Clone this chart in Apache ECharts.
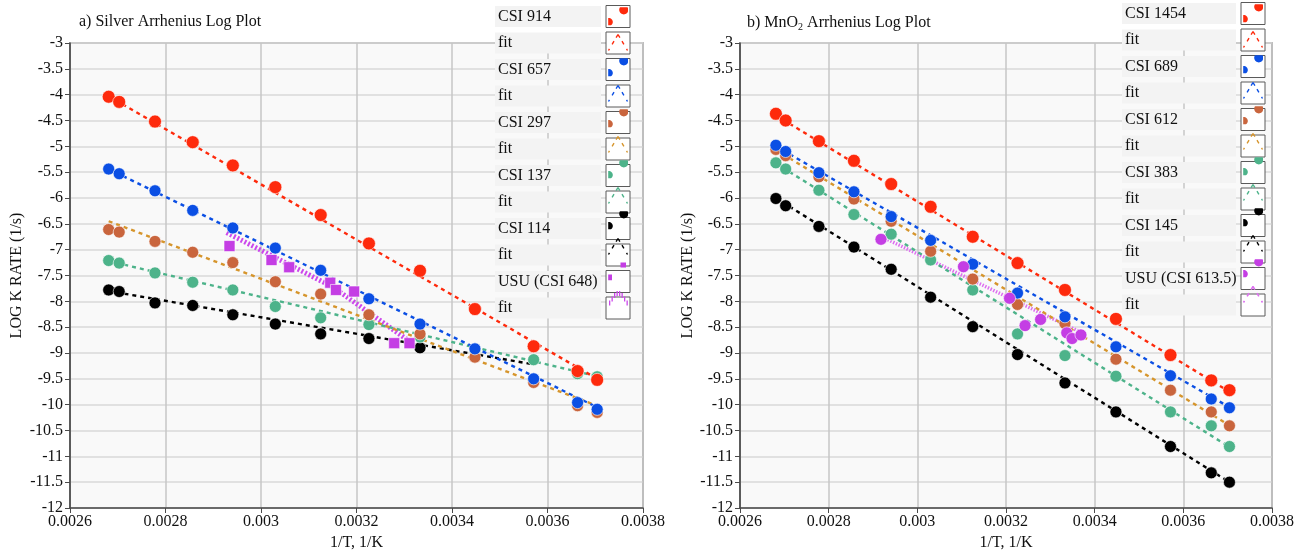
<!DOCTYPE html>
<html><head><meta charset="utf-8">
<script src="https://cdn.jsdelivr.net/npm/echarts@6/dist/echarts.min.js"></script>
<style>html,body{margin:0;padding:0;background:#fff}#c{width:1302px;height:556px}</style>
</head><body><div id="c"></div>
<script>
// ---------- DATA ----------
const invT = [0.002681,0.002703,0.002778,0.002857,0.002941,0.003030,0.003125,0.003226,0.003333,0.003448,0.003571,0.003663,0.003704];
const xTicks = ['0.0026','0.0028','0.003','0.0032','0.0034','0.0036','0.0038'];

// a) Silver
const agNames = ['CSI 914','CSI 657','CSI 297','CSI 137','CSI 114','USU (CSI 648)'];
const ag914 = [-4.04,-4.14,-4.52,-4.92,-5.37,-5.79,-6.33,-6.88,-7.41,-8.15,-8.87,-9.35,-9.52];
const ag657 = [-5.44,-5.53,-5.86,-6.24,-6.58,-6.97,-7.40,-7.95,-8.44,-8.92,-9.50,-9.96,-10.09];
const ag297 = [-6.61,-6.66,-6.84,-7.05,-7.25,-7.62,-7.86,-8.26,-8.63,-9.08,-9.57,-10.02,-10.15];
const ag137 = [-7.21,-7.26,-7.45,-7.63,-7.78,-8.10,-8.32,-8.45,-8.69,-8.94,-9.13,-9.40,-9.46];
const ag114 = [-7.78,-7.81,-8.03,-8.08,-8.26,-8.44,-8.63,-8.72,-8.90];
const agUsuX = [0.002934,0.003022,0.003059,0.003145,0.003157,0.003195,0.003279,0.003311];
const agUsuY = [-6.93,-7.20,-7.34,-7.64,-7.78,-7.81,-8.81,-8.81];
const fitX = [0.002681,0.003704];
const agFit914 = [-4.03,-9.50];
const agFit657 = [-5.44,-10.05];
const agFit297 = [-6.45,-10.02];
const agFit137 = [-7.22,-9.45];
const agFit114X = [0.002681,0.003571];
const agFit114 = [-7.80,-9.22];
const agFitUsuX = [0.002928,0.003150,0.003312];
const agFitUsu = [-6.67,-7.72,-8.78];

// b) MnO2
const mnNames = ['CSI 1454','CSI 689','CSI 612','CSI 383','CSI 145','USU (CSI 613.5)'];
const mn1454 = [-4.37,-4.50,-4.90,-5.28,-5.73,-6.17,-6.75,-7.26,-7.78,-8.34,-9.04,-9.53,-9.72];
const mn689 = [-4.98,-5.10,-5.51,-5.88,-6.36,-6.82,-7.28,-7.84,-8.30,-8.88,-9.44,-9.89,-10.06];
const mn612 = [-5.06,-5.18,-5.59,-6.02,-6.45,-7.03,-7.57,-8.06,-8.43,-9.12,-9.72,-10.14,-10.41];
const mn383 = [-5.32,-5.44,-5.85,-6.32,-6.70,-7.20,-7.78,-8.63,-9.05,-9.45,-10.14,-10.41,-10.81];
const mn145 = [-6.01,-6.15,-6.55,-6.95,-7.38,-7.92,-8.49,-9.03,-9.58,-10.14,-10.81,-11.32,-11.50];
const mnUsuX = [0.002918,0.003104,0.003208,0.003243,0.003278,0.003337,0.003349,0.003369];
const mnUsuY = [-6.80,-7.33,-7.94,-8.47,-8.35,-8.61,-8.72,-8.65];
const mnFit1454 = [-4.40,-9.75];
const mnFit689 = [-5.00,-10.05];
const mnFit612 = [-5.07,-10.40];
const mnFit383 = [-5.33,-10.82];
const mnFit145 = [-6.00,-11.50];
const mnFitUsuX = [0.002927,0.003374];
const mnFitUsu = [-6.78,-8.62];

// ---------- STYLE ----------
const FONT = "'Liberation Serif','Times New Roman',serif";
const C = {red:'#fe2a0c', blue:'#0b4fe4', sienna:'#c9653d', gold:'#d6952c', green:'#4db38a', black:'#000000', purple:'#c43ee4', purpleFit:'#cc48ec', pinkFit:'#dd70f0'};

function zip(xs, ys){ return ys.map((y,i)=>[xs[i], y]); }
const f2 = v => v.toFixed(2);
function seg(x1,y1,x2,y2,w){
  const dx=x2-x1, dy=y2-y1, L=Math.hypot(dx,dy), nx=-dy/L*w/2, ny=dx/L*w/2;
  return `M${f2(x1+nx)} ${f2(y1+ny)}L${f2(x2+nx)} ${f2(y2+ny)}L${f2(x2-nx)} ${f2(y2-ny)}L${f2(x1-nx)} ${f2(y1-ny)}Z`;
}
// clipped disc as polygon (icon glyph only)
function disc(cx, cy, r, x0, y0, x1, y1){
  let p='';
  for(let k=0;k<36;k++){
    const a=k/36*Math.PI*2;
    const x=Math.min(x1,Math.max(x0,cx+r*Math.cos(a)));
    const y=Math.min(y1,Math.max(y0,cy+r*Math.sin(a)));
    p+=(k?'L':'M')+f2(x)+' '+f2(y);
  }
  return p+'Z';
}
// tiny corner specks so the icon path spans the whole 24x22 box
const FRAME = 'M0 0L0.02 0L0 0.02ZM24 22L23.98 22L24 21.98Z';
const boxIcon = 'path://M0 0H24V22H0Z';
const dotIcon = 'path://' + FRAME + disc(17.8, 4.8, 4.6, 0, 2.2, 22, 22) + disc(2.8, 17.0, 4.0, 2.2, 0, 24, 20.3);
const sqIcon = 'path://' + FRAME + 'M14.5 2.5H20V7.5H14.5Z' + 'M2.2 14.5H6V20.3H2.2Z';
function caret(w){
  const pts=[[12,4],[2.5,20]], pts2=[[12,4],[21.5,20]];
  let p='';
  [pts,pts2].forEach(([a,b])=>{
    [[0,0.2],[0.42,0.62],[0.9,1]].forEach(([t1,t2])=>{
      p+=seg(a[0]+(b[0]-a[0])*t1, a[1]+(b[1]-a[1])*t1, a[0]+(b[0]-a[0])*t2, a[1]+(b[1]-a[1])*t2, w);
    });
  });
  return 'path://' + FRAME + p;
}
function hatch(){
  let p='';
  const xs=[3,5.5,8,10.5,13,15.5,18,20.5];
  const tops=[15,11,7.5,5.5,5.5,7.5,11,15];
  xs.forEach((x,i)=>{ p+=`M${x} ${tops[i]}H${x+1.3}V${tops[i]+5}H${x}Z`; });
  return 'path://' + FRAME + p;
}
const fitIcon = caret(1.4);

function scatter(name, data, color, gi, symbol, size){
  return {type:'scatter', name, data, xAxisIndex:gi, yAxisIndex:gi, symbol:symbol||'circle', symbolSize:size||12,
    itemStyle:{color, borderColor:'rgba(255,255,255,0.6)', borderWidth:1, opacity:1}, z:3};
}
function fit(name, data, color, gi, width, dash){
  return {type:'line', name, data, xAxisIndex:gi, yAxisIndex:gi, symbol:'none', showSymbol:false,
    lineStyle:{color, width:width||2.4, type:dash||[4,4]}, itemStyle:{color}, z:2};
}

const agLegendNames = ['CSI 914','fit a1','CSI 657','fit a2','CSI 297','fit a3','CSI 137','fit a4','CSI 114','fit a5','USU (CSI 648)','fit a6'];
const mnLegendNames = ['CSI 1454','fit b1','CSI 689','fit b2','CSI 612','fit b3','CSI 383','fit b4','CSI 145','fit b5','USU (CSI 613.5)','fit b6'];

const series = [
  fit('fit a6', zip(agFitUsuX, agFitUsu), C.purpleFit, 0, 5, [2,2]),
  fit('fit a5', zip(agFit114X, agFit114), C.black, 0),
  fit('fit a4', zip(fitX, agFit137), C.green, 0),
  fit('fit a3', zip(fitX, agFit297), C.gold, 0),
  fit('fit a2', zip(fitX, agFit657), C.blue, 0),
  fit('fit a1', zip(fitX, agFit914), C.red, 0),
  scatter('CSI 114', zip(invT, ag114), C.black, 0),
  scatter('CSI 137', zip(invT, ag137), C.green, 0),
  scatter('CSI 297', zip(invT, ag297), C.sienna, 0),
  scatter('CSI 657', zip(invT, ag657), C.blue, 0),
  scatter('CSI 914', zip(invT, ag914), C.red, 0, 'circle', 13),
  scatter('USU (CSI 648)', zip(agUsuX, agUsuY), C.purple, 0, 'rect', 11),

  fit('fit b6', zip(mnFitUsuX, mnFitUsu), C.pinkFit, 1, 3.5, [1.5,1.5]),
  fit('fit b5', zip(fitX, mnFit145), C.black, 1),
  fit('fit b4', zip(fitX, mnFit383), C.green, 1),
  fit('fit b3', zip(fitX, mnFit612), C.gold, 1),
  fit('fit b2', zip(fitX, mnFit689), C.blue, 1),
  fit('fit b1', zip(fitX, mnFit1454), C.red, 1),
  scatter('CSI 145', zip(invT, mn145), C.black, 1),
  scatter('CSI 383', zip(invT, mn383), C.green, 1),
  scatter('CSI 612', zip(invT, mn612), C.sienna, 1),
  scatter('CSI 689', zip(invT, mn689), C.blue, 1),
  scatter('USU (CSI 613.5)', zip(mnUsuX, mnUsuY), C.purple, 1),
  scatter('CSI 1454', zip(invT, mn1454), C.red, 1, 'circle', 13)
];

function legendFmt(n){ return '{a|' + (n.indexOf('fit')===0 ? 'fit' : n) + '}'; }
const GAP = 3.5;
function boxLegend(left, top, names, w){
  return {left, top, padding:0, orient:'vertical', align:'right', itemWidth:24, itemHeight:22, itemGap:GAP,
    icon:boxIcon, itemStyle:{color:'#ffffff', borderColor:'#5a5a5a', borderWidth:1}, selectedMode:false,
    data:names, formatter:legendFmt, z:4,
    textStyle:{rich:{a:{width:w, align:'left', backgroundColor:'#f3f3f3', padding:[0,3], height:21, lineHeight:21,
      fontFamily:FONT, fontSize:16, color:'#111'}}}};
}
function iconLegend(left, top, names, w, usuIcon, usuFitIcon){
  return {left, top, padding:0, orient:'vertical', align:'right', itemWidth:24, itemHeight:22, itemGap:GAP,
    itemStyle:{borderWidth:0}, selectedMode:false, z:5, formatter:legendFmt,
    data:names.map((n,i)=>({name:n, icon: i===10 ? usuIcon : i===11 ? usuFitIcon : (i%2===0 ? dotIcon : fitIcon)})),
    textStyle:{rich:{a:{width:w, align:'left', backgroundColor:'rgba(255,255,255,0)', padding:[0,3], height:21, lineHeight:21,
      fontFamily:FONT, fontSize:16, color:'rgba(0,0,0,0)'}}}};
}

function xAxis(gi){
  return {type:'value', gridIndex:gi, min:0.0026, max:0.0038, interval:0.0002,
    name:'1/T, 1/K', nameLocation:'middle', nameGap:26, nameTextStyle:{fontFamily:FONT, fontSize:16, color:'#111'},
    axisLine:{show:true, onZero:false, lineStyle:{color:'#4a4a4a', width:1.5}},
    axisTick:{show:true, length:5, lineStyle:{color:'#4a4a4a'}},
    axisLabel:{fontFamily:FONT, fontSize:16, color:'#111', margin:6, formatter:v=>xTicks[Math.round((v-0.0026)/0.0002)]},
    splitLine:{show:true, lineStyle:{color:'#c6c6c6', width:1.5}}};
}
function yAxis(gi, gap){
  return {type:'value', gridIndex:gi, min:-12, max:-3, interval:0.5,
    name:'LOG K RATE (1/s)', nameLocation:'middle', nameGap:gap, nameTextStyle:{fontFamily:FONT, fontSize:16, color:'#111'},
    axisLine:{show:true, onZero:false, lineStyle:{color:'#3a3a3a', width:1.5}},
    axisTick:{show:true, length:5, lineStyle:{color:'#4a4a4a'}},
    axisLabel:{fontFamily:FONT, fontSize:16, color:'#111', margin:7},
    splitLine:{show:true, lineStyle:{color:'#d8d8d8', width:1.5}}};
}

const chart = echarts.init(document.getElementById('c'), null, {renderer:'canvas'});
chart.setOption({
  animation:false,
  backgroundColor:'#ffffff',
  title:[
    {text:'a) Silver Arrhenius Log Plot', left:79, top:14, padding:0, textStyle:{fontFamily:FONT, fontSize:16, fontWeight:'normal', color:'#111'}},
    {text:'b) MnO{sub|2} Arrhenius Log Plot', left:747, top:14, padding:0,
      textStyle:{fontFamily:FONT, fontSize:16, fontWeight:'normal', color:'#111', lineHeight:18,
        rich:{sub:{fontFamily:FONT, fontSize:10, color:'#111', verticalAlign:'bottom', lineHeight:12}}}}
  ],
  grid:[
    {left:70, top:43, width:573, height:465, show:true, backgroundColor:'#f9f9f9', borderColor:'#8a8a8a', borderWidth:1.5},
    {left:740, top:43, width:532, height:465, show:true, backgroundColor:'#f9f9f9', borderColor:'#8a8a8a', borderWidth:1.5}
  ],
  xAxis:[xAxis(0), xAxis(1)],
  yAxis:[yAxis(0, 45), yAxis(1, 39)],
  legend:[
    boxLegend(495, 5, agLegendNames, 100),
    iconLegend(495, 5, agLegendNames, 100, sqIcon, hatch()),
    boxLegend(1122, 2, mnLegendNames, 108),
    iconLegend(1122, 2, mnLegendNames, 108, dotIcon, caret(1.6))
  ],
  series
});
</script></body></html>
